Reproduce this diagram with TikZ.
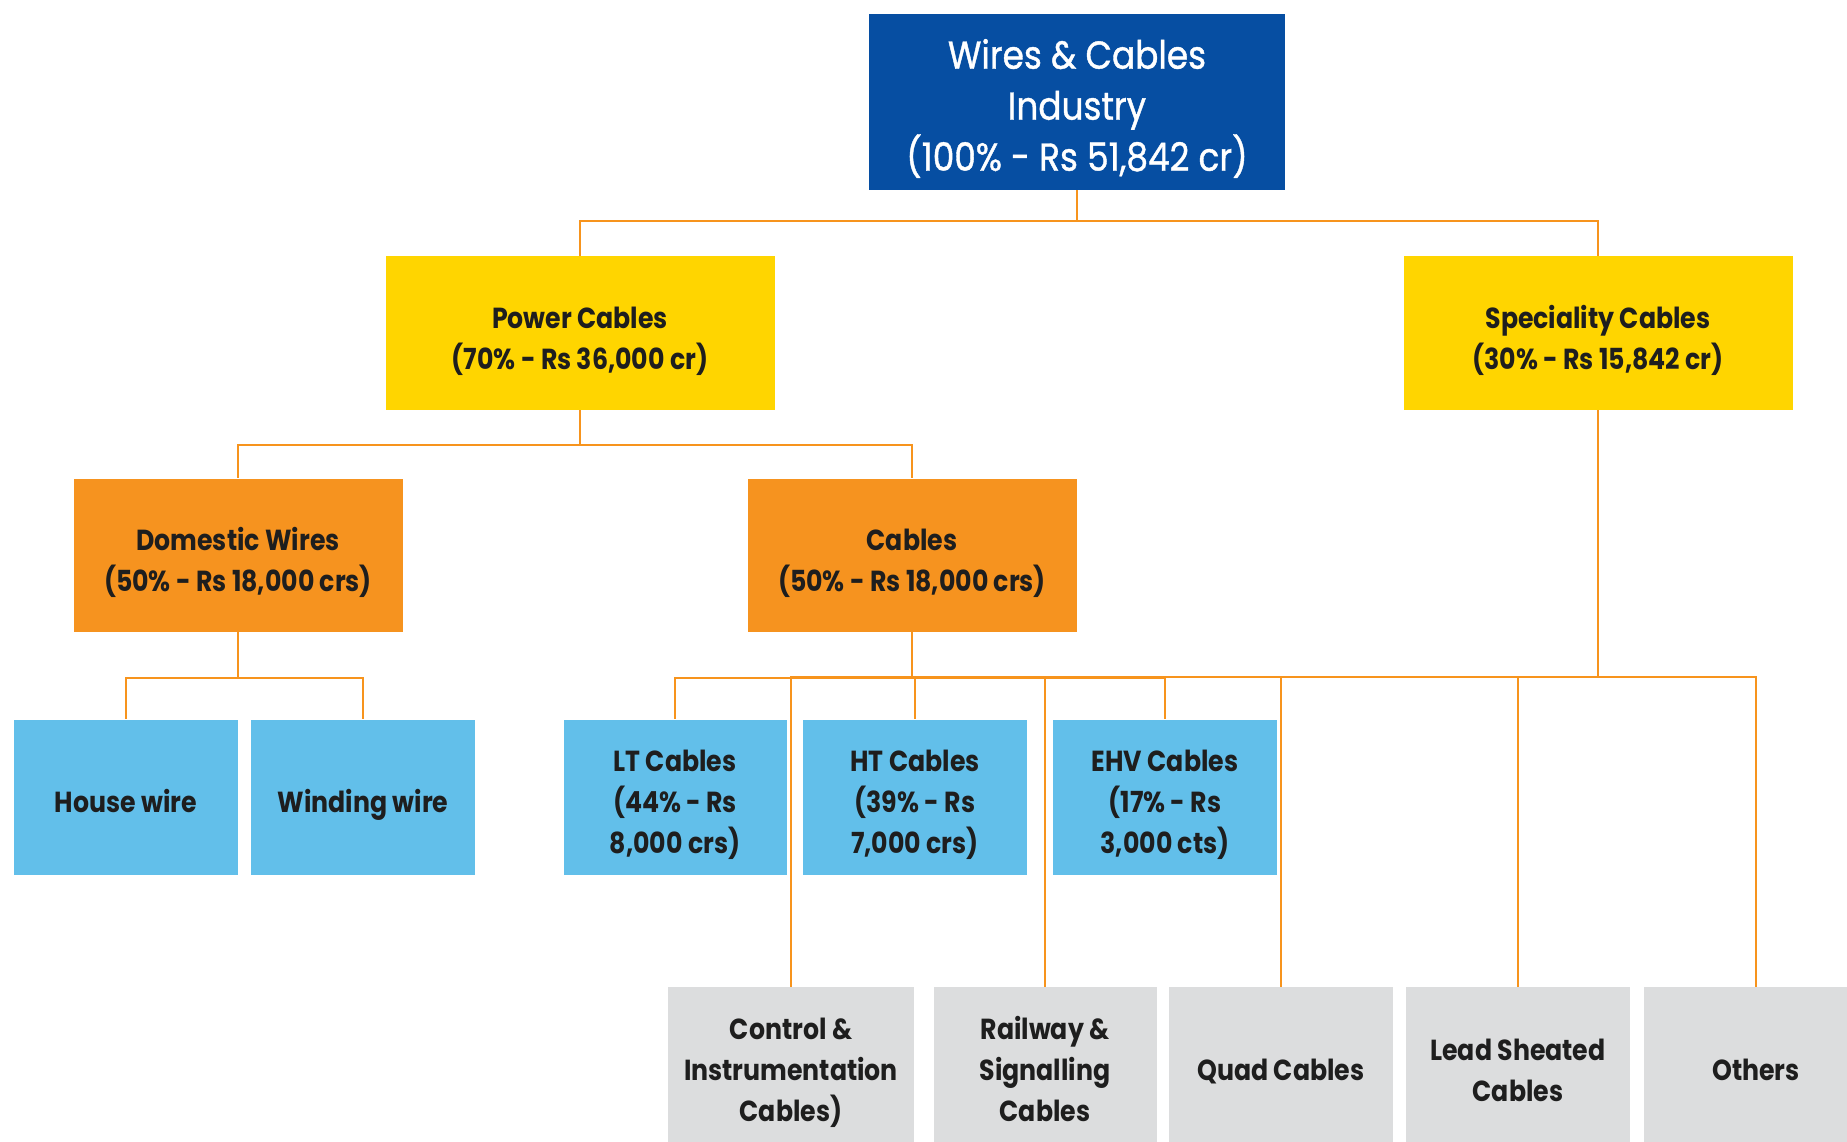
\documentclass[tikz,border=0pt]{standalone}
\usepackage{fontspec}
\setmainfont{Poppins}[FakeStretch=0.87]
\newfontfamily\topfont{Poppins}[FakeStretch=0.88, FakeBold=1]
\newcommand\tp{\rule{0pt}{\dimexpr.7\baselineskip+15pt\relax}}
\newcommand\bt{\strut}
\definecolor{topblue}{HTML}{064EA2}
\definecolor{yel}{HTML}{FFD500}
\definecolor{org}{HTML}{F6931F}
\definecolor{lblue}{HTML}{62BFEA}
\definecolor{lgrey}{HTML}{DCDDDE}
\definecolor{linec}{HTML}{F7941D}
\definecolor{txt}{HTML}{1E1E1E}
\tikzset{
  box/.style={rectangle, inner sep=0pt, align=center, text=txt,
    font=\bfseries\fontsize{29}{41}\selectfont},
  topbox/.style={box, fill=topblue, text=white, minimum width=416pt, minimum height=176pt,
    font=\topfont\fontsize{39}{51}\selectfont},
  lvone/.style={box, fill=yel, minimum width=389pt, minimum height=154pt},
  lvtwo/.style={box, fill=org, minimum width=329pt, minimum height=153pt},
  leaf/.style={box, fill=lblue, minimum width=224pt, minimum height=155pt},
  greybox/.style={box, fill=lgrey, minimum width=224pt, minimum height=156pt},
  conn/.style={draw=linec, line width=2pt},
  bus/.style={draw=linec, line width=2.6pt}
}
\begin{document}
\begin{tikzpicture}[x=1pt, y=-1pt]
\useasboundingbox (0,0) rectangle (1847,1141);
\clip (0,0) rectangle (1847,1141);
\fill[white] (0,0) rectangle (1847,1141);

\node[topbox] (top) at (1077,102) {\tp Wires \& Cables\\Industry\\(100\% - Rs 51,842 cr)\bt};
\node[lvone] (power) at (580,333) {\tp Power Cables\\(70\% - Rs 36,000 cr)\bt};
\node[lvone] (spec) at (1598,333) {\tp Speciality Cables\\(30\% - Rs 15,842 cr)\bt};
\node[lvtwo] (dom) at (238,555) {\tp Domestic Wires\\(50\% - Rs 18,000 crs)\bt};
\node[lvtwo] (cab) at (912,555) {\tp Cables\\(50\% - Rs 18,000 crs)\bt};
\node[leaf] (house) at (126,797) {\tp House wire\bt};
\node[leaf] (wind) at (363,797) {\tp Winding wire\bt};
\node[leaf, minimum width=223pt] (lt) at (675,797) {\tp LT Cables\\(44\% - Rs\\8,000 crs)\bt};
\node[leaf] (ht) at (915,797) {\tp HT Cables\\(39\% - Rs\\7,000 crs)\bt};
\node[leaf] (ehv) at (1165,797) {\tp EHV Cables\\(17\% - Rs\\3,000 cts)\bt};
\node[greybox, minimum width=246pt] (ctrl) at (791,1065) {\tp Control \&\\Instrumentation\\Cables)\bt};
\node[greybox, minimum width=223pt] (rail) at (1045,1065) {\tp Railway \&\\Signalling\\Cables\bt};
\node[greybox] (quad) at (1281,1065) {\tp Quad Cables\bt};
\node[greybox] (lead) at (1518,1065) {\tp Lead Sheated\\Cables\bt};
\node[greybox] (oth) at (1756,1065) {\tp Others\bt};

% top level
\draw[conn] (top.south) -- ++(0,31) -| (power.north);
\draw[conn] (top.south) -- ++(0,31) -| (spec.north);
% power cables
\draw[conn] (power.south) -- ++(0,35) -| (dom.north);
\draw[conn] (power.south) -- ++(0,35) -| (cab.north);
% domestic
\draw[conn] (dom.south) -- ++(0,46) -| (house.north);
\draw[conn] (dom.south) -- ++(0,46) -| (wind.north);
% cables
\draw[conn] (cab.south) -- ++(0,46) -| (lt.north);
\draw[conn] (cab.south) -- ++(0,46) -| (ht.north);
\draw[conn] (cab.south) -- ++(0,46) -| (ehv.north);
% speciality
\draw[bus] (spec.south) -- ++(0,267);
\draw[conn] (spec.south) ++(0,267) -| (ctrl.north);
\draw[conn] (spec.south) ++(0,267) -| (rail.north);
\draw[conn] (spec.south) ++(0,267) -| (quad.north);
\draw[conn] (spec.south) ++(0,267) -| (lead.north);
\draw[conn] (spec.south) ++(0,267) -| (oth.north);
\end{tikzpicture}
\end{document}
